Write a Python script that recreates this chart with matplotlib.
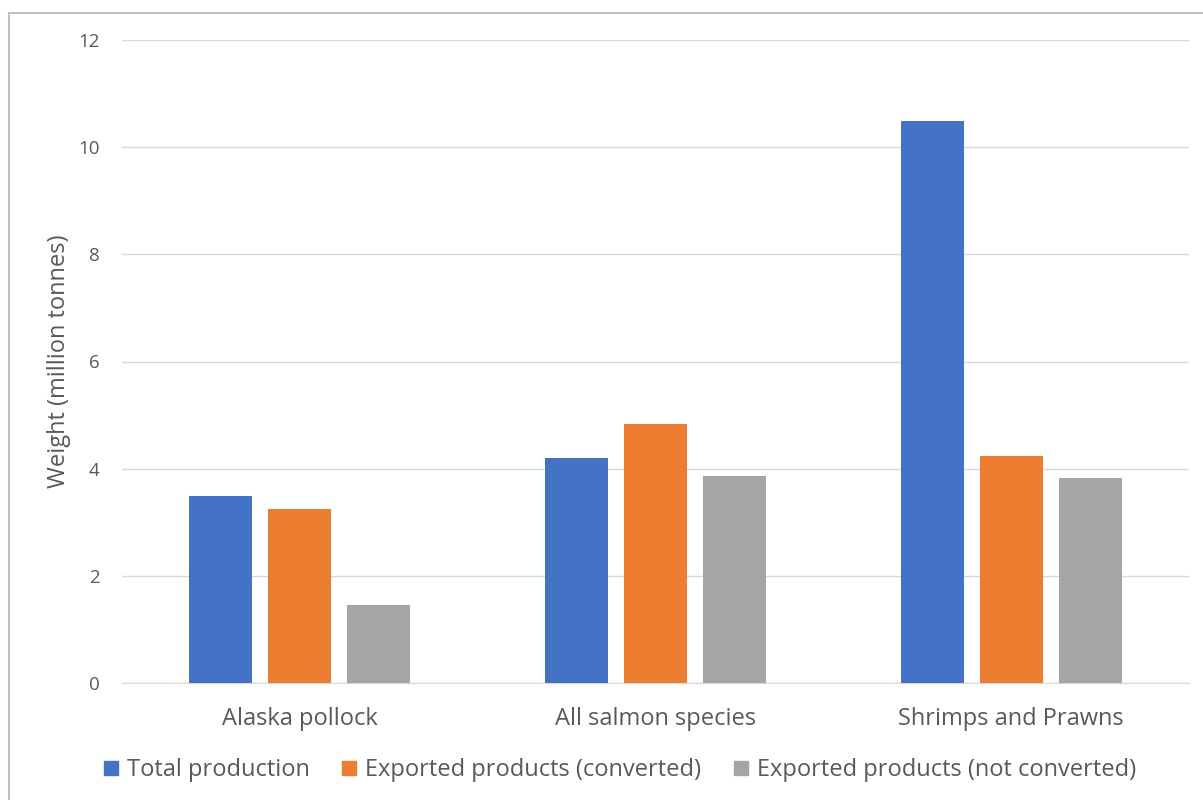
import numpy as np
import matplotlib.pyplot as plt
from matplotlib.patches import Rectangle

species = ["Alaska pollock", "All salmon species", "Shrimps and Prawns"]
total_production = [3.49, 4.20, 10.49]
exported_converted = [3.25, 4.83, 4.24]
exported_not_converted = [1.46, 3.86, 3.83]

series_names = ["Total production", "Exported products (converted)",
                "Exported products (not converted)"]
colors = ["#4472C4", "#ED7D31", "#A5A5A5"]
text_color = "#595959"

plt.rcParams['font.family'] = ['Open Sans', 'DejaVu Sans']

fig = plt.figure(figsize=(12.03, 8), dpi=100)
ax = fig.add_axes([122 / 1203, 0.14625, 1067 / 1203, 0.80375])

x = np.arange(len(species))
width = 0.177
step = 0.222
all_series = [total_production, exported_converted, exported_not_converted]
for i, (vals, name, c) in enumerate(zip(all_series, series_names, colors)):
    ax.bar(x + (i - 1) * step, vals, width, color=c, label=name, zorder=3)

ax.set_xlim(-0.5, 2.5)
ax.set_ylim(0, 12)
ax.set_yticks(range(0, 13, 2))
ax.set_xticks(x)
ax.set_xticklabels(species, fontsize=17, color=text_color)
ax.tick_params(axis='y', labelsize=13.5, labelcolor=text_color, length=0, pad=16)
ax.tick_params(axis='x', length=0, pad=17)
ax.grid(axis='y', color="#D9D9D9", linewidth=1, zorder=0)
for s in ["top", "right", "left"]:
    ax.spines[s].set_visible(False)
ax.spines["bottom"].set_color("#D9D9D9")

ax.set_ylabel("Weight (million tonnes)", fontsize=17, color=text_color)
ax.yaxis.set_label_coords(-0.048, 0.5)

handles = [plt.Line2D([], [], marker='s', linestyle='', markersize=10.5,
                      color=c) for c in colors]
fig.legend(handles, series_names, loc='center', bbox_to_anchor=(0.515, 0.0375),
           ncol=3, frameon=False, fontsize=17, labelcolor=text_color,
           handlelength=0.65, handletextpad=0.35, columnspacing=1.35)

# outer chart border (clipped at right/bottom like the screenshot)
fig.patches.append(Rectangle((9 / 1203, -0.05), 1.2, (800 - 13) / 800 + 0.05,
                             transform=fig.transFigure, fill=False,
                             edgecolor="#BFBFBF", linewidth=1.5))

fig.savefig("out.png", dpi=100)
